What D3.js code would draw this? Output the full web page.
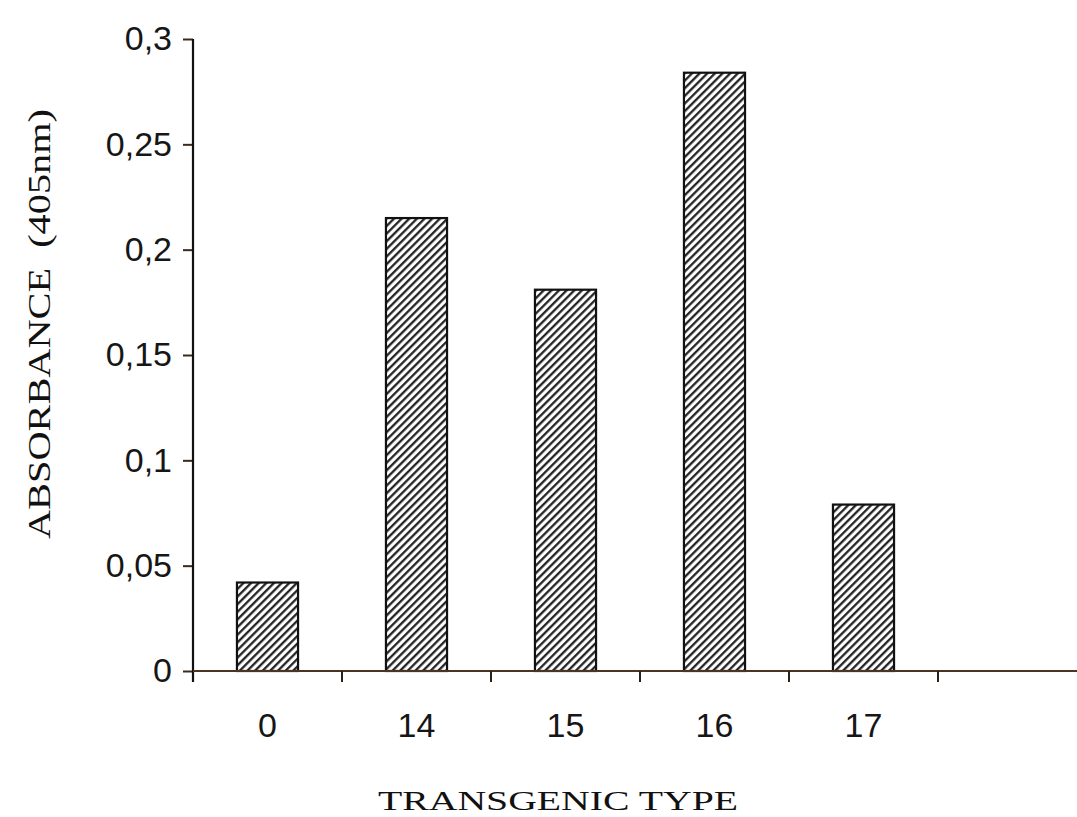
<!DOCTYPE html>
<html>
<head>
<meta charset="utf-8">
<script src="https://cdn.jsdelivr.net/npm/d3@7/dist/d3.min.js"></script>
<style>
  html, body { margin: 0; padding: 0; background: #fff; }
  svg { display: block; }
  .tick-lbl { font-family: "Liberation Sans", Arial, sans-serif; font-size: 34px; fill: #161616; }
  .ax-title { font-family: "Liberation Serif", "Times New Roman", serif; fill: #111; }
</style>
</head>
<body>
<svg id="chart" width="1077" height="817"></svg>
<script>
// data
const categories = ['0', '14', '15', '16', '17', ''];
const values     = [0.042, 0.215, 0.181, 0.284, 0.079];
const yTicks     = [0, 0.05, 0.1, 0.15, 0.2, 0.25, 0.3];

const plotL = 193, plotR = 1087, plotT = 39, plotB = 671;

const svg = d3.select('#chart');

// hatch pattern "/"
const defs = svg.append('defs');
const pat = defs.append('pattern')
  .attr('id', 'hatch')
  .attr('patternUnits', 'userSpaceOnUse')
  .attr('width', 5.4)
  .attr('height', 5.4)
  .attr('patternTransform', 'rotate(45)');
pat.append('rect').attr('width', 5.4).attr('height', 5.4).attr('fill', '#fff');
pat.append('line')
  .attr('x1', 1.2).attr('y1', 0).attr('x2', 1.2).attr('y2', 5.4)
  .attr('stroke', '#1a1a1a').attr('stroke-width', 2.2);

const x = d3.scaleBand()
  .domain(categories)
  .range([plotL, plotR])
  .paddingInner(0)
  .paddingOuter(0);

const y = d3.scaleLinear()
  .domain([0, 0.3])
  .range([plotB, plotT]);

const barW = x.step() * 0.41;

// bars
svg.append('g')
  .selectAll('rect')
  .data(values)
  .join('rect')
    .attr('x', (d, i) => x(categories[i]) + (x.bandwidth() - barW) / 2)
    .attr('y', d => y(d))
    .attr('width', barW)
    .attr('height', d => y(0) - y(d))
    .attr('fill', 'url(#hatch)')
    .attr('stroke', '#111')
    .attr('stroke-width', 2.2);

// y axis
const yAxis = svg.append('g')
  .attr('transform', `translate(${plotL},0)`)
  .call(d3.axisLeft(y)
    .tickValues(yTicks)
    .tickSize(10)
    .tickPadding(11)
    .tickFormat(d => String(d).replace('.', ',')));
yAxis.select('.domain').remove();
yAxis.selectAll('.tick line').attr('stroke', '#3a2a1e').attr('stroke-width', 2);
yAxis.selectAll('.tick text').attr('class', 'tick-lbl');
yAxis.append('line')
  .attr('x1', 0).attr('x2', 0)
  .attr('y1', y(0.3)).attr('y2', y(0) + 11)
  .attr('stroke', '#111').attr('stroke-width', 2.2);

// x axis
const xg = svg.append('g');
xg.append('line')
  .attr('x1', plotL).attr('x2', plotR)
  .attr('y1', y(0)).attr('y2', y(0))
  .attr('stroke', '#4a3524').attr('stroke-width', 2.2);

xg.selectAll('.xtick')
  .data(categories.slice(1))
  .join('line')
    .attr('class', 'xtick')
    .attr('x1', d => x(d)).attr('x2', d => x(d))
    .attr('y1', y(0)).attr('y2', y(0) + 11)
    .attr('stroke', '#2a2018').attr('stroke-width', 2);

xg.selectAll('.xlbl')
  .data(categories.filter(c => c !== ''))
  .join('text')
    .attr('class', 'tick-lbl')
    .attr('x', d => x(d) + x.bandwidth() / 2)
    .attr('y', y(0) + 66)
    .attr('text-anchor', 'middle')
    .text(d => d);

// axis titles
svg.append('text')
  .attr('class', 'ax-title')
  .attr('transform', `translate(50, 324) rotate(-90)`)
  .attr('text-anchor', 'middle')
  .attr('font-size', 32)
  .attr('textLength', 430)
  .attr('lengthAdjust', 'spacingAndGlyphs')
  .text('ABSORBANCE\u00a0\u00a0(405nm)');

svg.append('text')
  .attr('class', 'ax-title')
  .attr('x', 558)
  .attr('y', 810)
  .attr('text-anchor', 'middle')
  .attr('font-size', 28)
  .attr('textLength', 360)
  .attr('lengthAdjust', 'spacingAndGlyphs')
  .text('TRANSGENIC TYPE');
</script>
</body>
</html>
